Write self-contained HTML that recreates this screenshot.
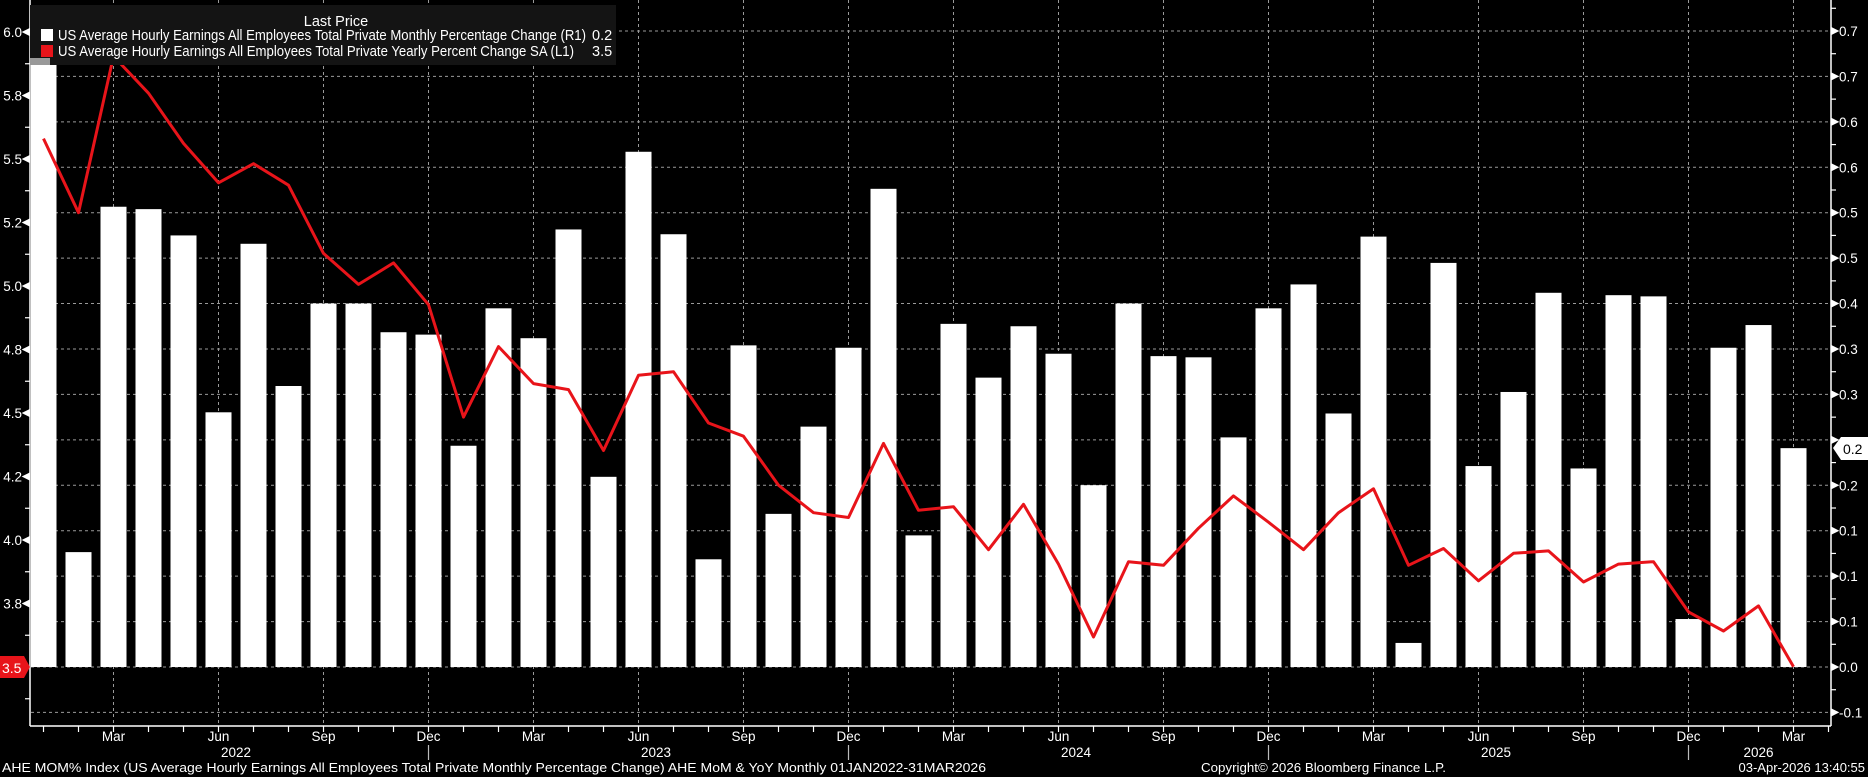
<!DOCTYPE html>
<html><head><meta charset="utf-8"><style>
html,body{margin:0;padding:0;background:#000;}
svg{display:block;}
text{font-family:"Liberation Sans Narrow","Liberation Sans",sans-serif;fill:#fff;}
</style></head><body>
<svg width="1868" height="777" viewBox="0 0 1868 777" xmlns="http://www.w3.org/2000/svg">
<rect width="1868" height="777" fill="#000"/>
<g id="grid" stroke="#9a9a9a" stroke-width="1" stroke-dasharray="3,3" fill="none"></g>
<g id="bars" fill="#fff"></g>
<polyline id="line" fill="none" stroke="#e8141a" stroke-width="3" stroke-linejoin="round"/>
<g stroke="#fff" stroke-width="1.5" fill="none">
<line x1="30" y1="0" x2="30" y2="726"/>
<line x1="1831" y1="0" x2="1831" y2="726"/>
<line x1="30" y1="726" x2="1831" y2="726"/>
</g>
<g id="ticks" stroke="#fff" stroke-width="1.2"></g>
<g id="labels" font-size="13.5"></g>
<!-- legend -->
<rect x="30" y="5" width="586" height="60" fill="#141414"/>
<rect x="30" y="58" width="20" height="7" fill="#999"/>
<text x="336" y="26" font-size="14.5" text-anchor="middle">Last Price</text>
<rect x="41" y="29" width="12" height="12" fill="#fff"/>
<rect x="41" y="45" width="12" height="12" fill="#e8141a"/>
<text x="58" y="40" font-size="14.5" textLength="528" lengthAdjust="spacingAndGlyphs">US Average Hourly Earnings All Employees Total Private Monthly Percentage Change  (R1)</text>
<text x="592" y="40" font-size="14.5">0.2</text>
<text x="58" y="56" font-size="14.5" textLength="516" lengthAdjust="spacingAndGlyphs">US Average Hourly Earnings All Employees Total Private Yearly Percent Change SA  (L1)</text>
<text x="592" y="56" font-size="14.5">3.5</text>
<!-- last value boxes -->
<polygon points="1833,448 1841,437 1868,437 1868,460 1841,460" fill="#fff"/>
<text x="1843" y="454" font-size="14" style="fill:#000">0.2</text>
<polygon points="0,656 24,656 30,667 24,678 0,678" fill="#e8141a"/>
<text x="2" y="673" font-size="14">3.5</text>
<!-- footer -->
<text x="2" y="772" font-size="13" textLength="984" lengthAdjust="spacingAndGlyphs">AHE MOM% Index (US Average Hourly Earnings All Employees Total Private Monthly Percentage Change) AHE MoM &amp; YoY Monthly 01JAN2022-31MAR2026</text>
<text x="1201" y="772" font-size="13" textLength="245" lengthAdjust="spacingAndGlyphs">Copyright© 2026 Bloomberg Finance L.P.</text>
<text x="1865" y="772" font-size="13" text-anchor="end">03-Apr-2026 13:40:55</text>
</svg>
<script>
(function(){
var NS="http://www.w3.org/2000/svg";
function el(p,t,a,txt){var e=document.createElementNS(NS,t);for(var k in a)e.setAttribute(k,a[k]);if(txt!=null)e.textContent=txt;document.getElementById(p).appendChild(e);return e;}
var K=1.19505;
var bars=[45,462,173,175,197,345,204,323,254,254,278,280,373,258,283,192,399,127,196,468,289,430,357,291,158,448,271,316,273,296,406,254,298,299,366,258,238,346,198,538,220,390,328,245,392,247,248,518,291,272,375];
var red=[116,178,47,78,120,153,137,155,212,238,220,255,349,290,321,326,377,314,311,354,365,406,429,433,371,427,424,460,422,472,533,470,473,442,415,437,460,429,409,473,459,486,463,461,487,472,470,512,528,507,558];
function X(i){return 43.5+35*i;}
var y0=667;
// grid horizontal
for(var k=-1;k<=14;k++){var y=y0-k*45.43;el("grid","line",{x1:31,x2:1830,y1:y,y2:y});}
// grid vertical at Mar/Jun/Sep/Dec
for(var i=2;i<51;i+=3){el("grid","line",{x1:X(i),x2:X(i),y1:0,y2:725});}
// bars
for(var i=0;i<bars.length;i++){var t=bars[i]*K;var x=X(i)-13;if(x<31)x=31;el("bars","rect",{x:x,y:t,width:X(i)+13-x,height:y0-t});}
var pts=[];for(var i=0;i<red.length;i++)pts.push(X(i).toFixed(1)+","+(red[i]*K).toFixed(1));
document.getElementById("line").setAttribute("points",pts.join(" "));
// right axis labels
var rl={14:"0.7",13:"0.7",12:"0.6",11:"0.6",10:"0.5",9:"0.5",8:"0.4",7:"0.3",6:"0.3",5:"0.3",4:"0.2",3:"0.1",2:"0.1",1:"0.1",0:"0.0","-1":"-0.1"};
for(var k=-1;k<=14;k++){var y=y0-k*45.43;
 el("ticks","polygon",{points:(1832)+","+(y-3)+" "+(1838)+","+y+" "+(1832)+","+(y+3),fill:"#fff"});
 el("ticks","line",{x1:1831,x2:1836,y1:y-22.7,y2:y-22.7});
 if(k!=5)el("labels","text",{x:1839,y:y+5},rl[k]);}
// left axis
var ll=["6.0","5.8","5.5","5.2","5.0","4.8","4.5","4.2","4.0","3.8"];
for(var j=0;j<=10;j++){var y=32+j*63.5;
 if(j<10){el("ticks","polygon",{points:"29,"+(y-3)+" 23,"+y+" 29,"+(y+3),fill:"#fff"});
 el("labels","text",{x:22,y:y+5,"text-anchor":"end"},ll[j]);}
 el("ticks","line",{x1:25,x2:30,y1:y+31.75,y2:y+31.75});}
// bottom ticks and month labels
var mn=["Mar","Jun","Sep","Dec"];
for(var i=0;i<52;i++){el("ticks","line",{x1:X(i),x2:X(i),y1:726,y2:732});}
for(var i=2;i<51;i+=3){el("labels","text",{x:X(i),y:741,"text-anchor":"middle"},mn[((i-2)/3)%4]);}
var yrs=["2022","2023","2024","2025"];
for(var q=0;q<4;q++){el("labels","text",{x:X(5.5+12*q),y:757,"text-anchor":"middle"},yrs[q]);
 el("ticks","line",{x1:X(11+12*q),x2:X(11+12*q),y1:745,y2:760,"stroke":"#bbb"});}
el("labels","text",{x:X(49),y:757,"text-anchor":"middle"},"2026");
})();
</script>
</body></html>
